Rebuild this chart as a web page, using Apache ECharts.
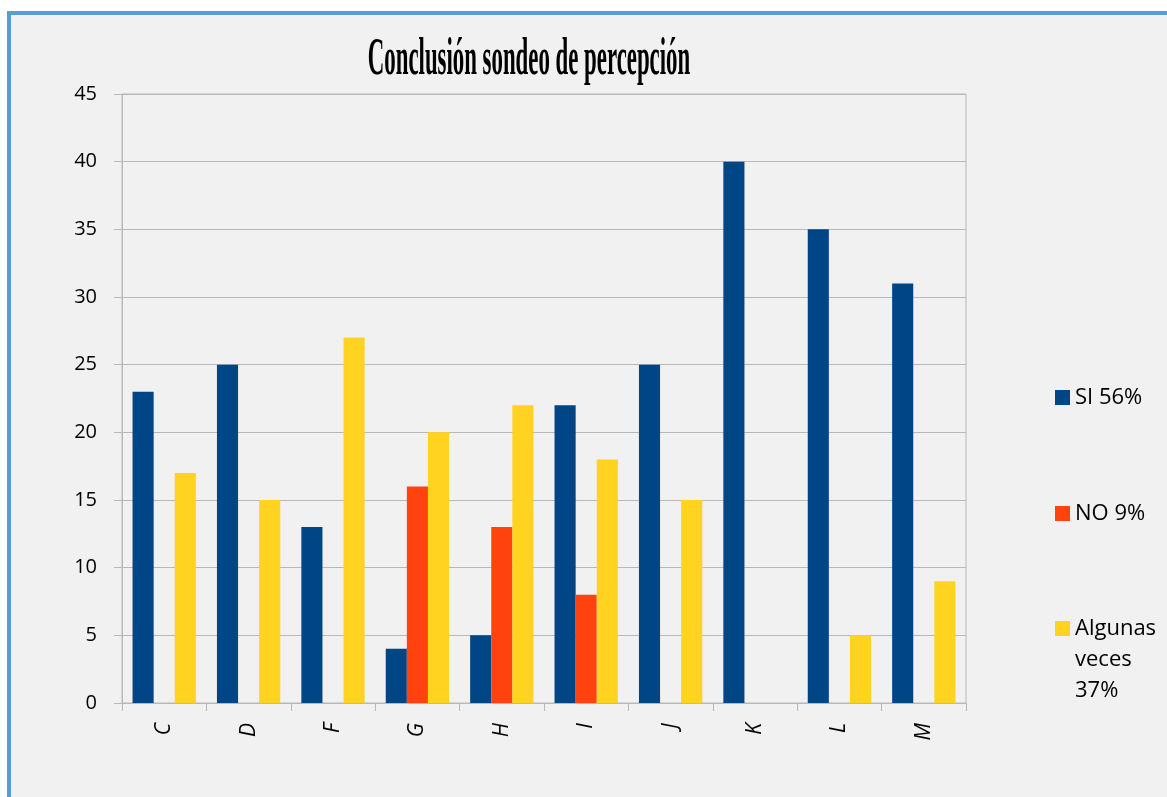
<!DOCTYPE html>
<html>
<head>
<meta charset="utf-8">
<script src="https://cdn.jsdelivr.net/npm/echarts@6/dist/echarts.min.js"></script>
<style>
  html, body { margin: 0; padding: 0; background: #fff; }
  #frame {
    position: absolute; left: 7px; top: 11px; right: 0; bottom: 0;
    background: #f1f1f1;
    border-left: 4px solid #5b9bd5;
    border-top: 4px solid #5b9bd5;
  }
  #main { position: absolute; left: 0; top: 0; width: 1167px; height: 797px; }
</style>
</head>
<body>
<div id="frame"></div>
<div id="main"></div>
<script>
// categorias del sondeo
const categories = ['C', 'D', 'F', 'G', 'H', 'I', 'J', 'K', 'L', 'M'];
const siValues = [23, 25, 13, 4, 5, 22, 25, 40, 35, 31];
const noValues = [0, 0, 0, 16, 13, 8, 0, 0, 0, 0];
const algunasValues = [17, 15, 27, 20, 22, 18, 15, 0, 5, 9];
const yTicks = { min: 0, max: 45, interval: 5 };
const seriesNames = ['SI 56%', 'NO 9%', 'Algunas veces 37%'];
const colors = ['#004586', '#ff420e', '#ffd320'];

const chart = echarts.init(document.getElementById('main'));

const legendText = {
  fontFamily: 'Open Sans',
  fontSize: 22,
  color: '#000',
  lineHeight: 31
};

const option = {
  animation: false,
  color: colors,
  graphic: [
    {
      type: 'text',
      x: 529,
      y: 61,
      scaleX: 0.439,
      style: {
        text: 'Conclusión sondeo de percepción',
        font: 'bold 52px "Liberation Serif"',
        fill: '#000',
        textAlign: 'center',
        textVerticalAlign: 'middle'
      }
    }
  ],
  legend: [
    {
      data: [seriesNames[0]],
      left: 1055, top: 382, padding: 0,
      itemWidth: 15, itemHeight: 15, itemGap: 7,
      icon: 'rect',
      textStyle: legendText
    },
    {
      data: [seriesNames[1]],
      left: 1055, top: 498, padding: 0,
      itemWidth: 15, itemHeight: 15, itemGap: 7,
      icon: 'rect',
      textStyle: legendText
    },
    {
      data: [seriesNames[2]],
      left: 1055, top: 551, padding: 0,
      itemWidth: 15, itemHeight: 15, itemGap: 7,
      icon: 'rect',
      // two blank lines on top keep the icon level with "Algunas"
      formatter: () => '\n\nAlgunas\nveces\n37%',
      textStyle: legendText
    }
  ],
  grid: {
    left: 122, right: 201, top: 94, bottom: 94,
    show: true,
    borderColor: '#b8b8b8',
    borderWidth: 1,
    backgroundColor: 'transparent'
  },
  xAxis: {
    type: 'category',
    data: categories,
    axisLine: { lineStyle: { color: '#b8b8b8', width: 1 } },
    axisTick: { show: true, length: 8, lineStyle: { color: '#b8b8b8' } },
    axisLabel: {
      rotate: 90,
      margin: 20,
      color: '#000',
      fontSize: 21,
      fontStyle: 'italic',
      fontFamily: 'Open Sans'
    }
  },
  yAxis: {
    type: 'value',
    min: yTicks.min,
    max: yTicks.max,
    interval: yTicks.interval,
    axisLine: { show: true, lineStyle: { color: '#b8b8b8', width: 1 } },
    axisTick: { show: true, length: 8, lineStyle: { color: '#b8b8b8' } },
    splitLine: { lineStyle: { color: '#b8b8b8', width: 1 } },
    axisLabel: {
      margin: 25,
      color: '#000',
      fontSize: 20,
      fontFamily: 'Open Sans'
    }
  },
  series: [
    {
      name: seriesNames[0],
      type: 'bar',
      barGap: 0,
      barCategoryGap: '25%',
      data: siValues
    },
    {
      name: seriesNames[1],
      type: 'bar',
      barGap: 0,
      barCategoryGap: '25%',
      data: noValues
    },
    {
      name: seriesNames[2],
      type: 'bar',
      barGap: 0,
      barCategoryGap: '25%',
      data: algunasValues
    }
  ]
};

chart.setOption(option);
</script>
</body>
</html>
